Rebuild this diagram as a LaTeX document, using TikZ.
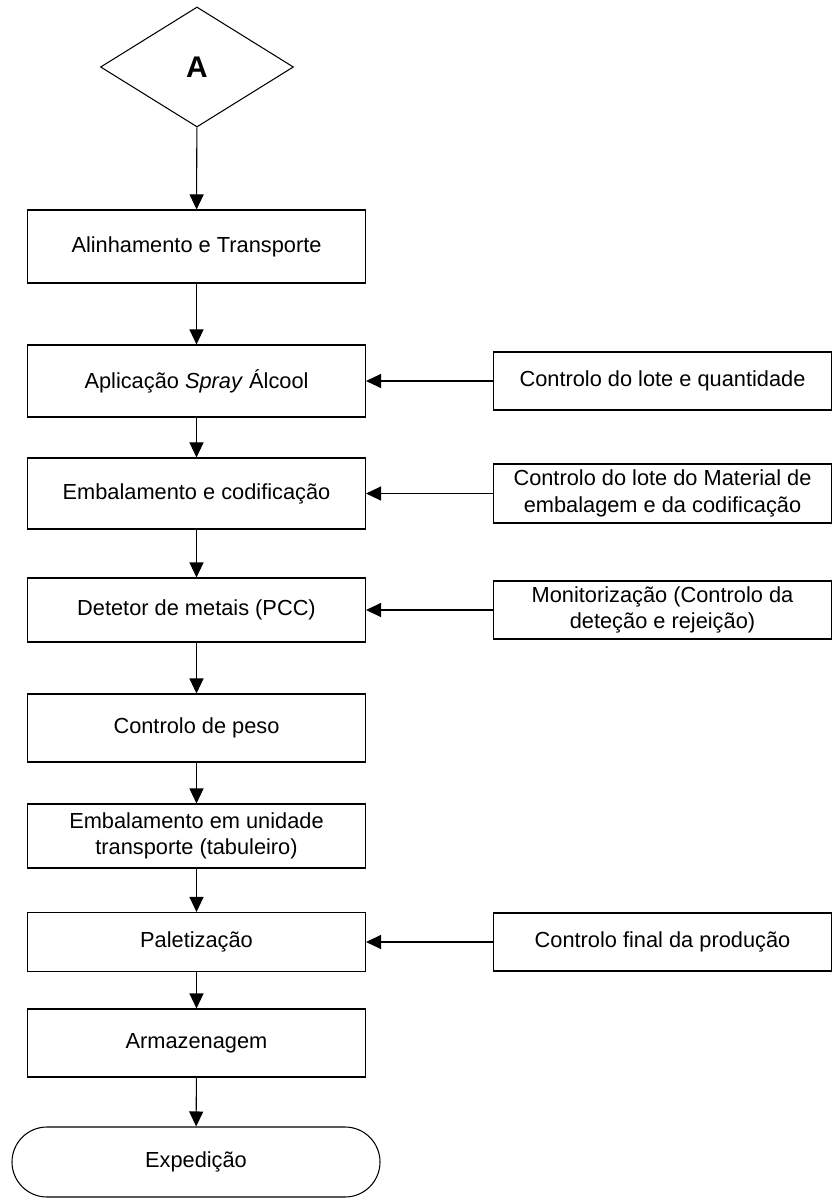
\documentclass[tikz,border=0pt]{standalone}
\usepackage{fontspec}
\setmainfont{Liberation Sans}
\usetikzlibrary{shapes.geometric,arrows.meta}
\tikzset{
  stage/.style={draw, minimum width=6.76cm, align=center, inner sep=2pt},
  check/.style={draw, minimum width=6.76cm, minimum height=1.16cm, align=center, inner sep=2pt},
}
\begin{document}
\begin{tikzpicture}[>={Triangle[length=0.3cm,width=0.28cm]}, line width=0.6pt,
    font=\fontsize{12.4}{15.2}\selectfont]
      \path[use as bounding box] (0,0) rectangle (16.66,-24);
      \node[draw,diamond,minimum width=3.86cm,minimum height=2.4cm,inner sep=0pt,
        font=\fontsize{17}{19}\selectfont\bfseries] at (3.94,-1.34) (A) {A};
      \node[stage,minimum height=1.46cm] at (3.93,-4.93) (al) {Alinhamento e Transporte};
      \node[stage,minimum height=1.44cm] at (3.93,-7.62) (ap) {Aplicação \textit{Spray} Álcool};
      \node[stage,minimum height=1.42cm] at (3.93,-9.87) (em) {Embalamento e codificação};
      \node[stage,minimum height=1.28cm] at (3.93,-12.20) (dm) {Detetor de metais (PCC)};
      \node[stage,minimum height=1.36cm] at (3.93,-14.56) (cp) {Controlo de peso};
      \node[stage,minimum height=1.28cm] at (3.93,-16.72) (eu) {Embalamento em unidade\\transporte (tabuleiro)};
      \node[stage,minimum height=1.18cm] at (3.93,-18.84) (pl) {Paletização};
      \node[stage,minimum height=1.36cm] at (3.93,-20.86) (ar) {Armazenagem};
      \node[draw,rounded corners=0.7cm,minimum width=7.36cm,minimum height=1.4cm] at (3.92,-23.24) (ex) {Expedição};
      \node[check] at (13.25,-7.62) (cl) {Controlo do lote e quantidade};
      \node[check,minimum height=1.18cm] at (13.25,-9.87) (cm) {Controlo do lote do Material de\\embalagem e da codificação};
      \node[check] at (13.25,-12.20) (mo) {Monitorização (Controlo da\\deteção e rejeição)};
      \node[check] at (13.25,-18.84) (cf) {Controlo final da produção};
      \path[draw,->] (A) -- (al);
      \path[draw,->] (al) -- (ap);
      \path[draw,->] (ap) -- (em);
      \path[draw,->] (em) -- (dm);
      \path[draw,->] (dm) -- (cp);
      \path[draw,->] (cp) -- (eu);
      \path[draw,->] (eu) -- (pl);
      \path[draw,->] (pl) -- (ar);
      \path[draw,->] (ar) -- (ex);
      \path[draw,->] (cl) -- (ap);
      \path[draw,->] (cm) -- (em);
      \path[draw,->] (mo) -- (dm);
      \path[draw,->] (cf) -- (pl);
    \end{tikzpicture}
\end{document}
